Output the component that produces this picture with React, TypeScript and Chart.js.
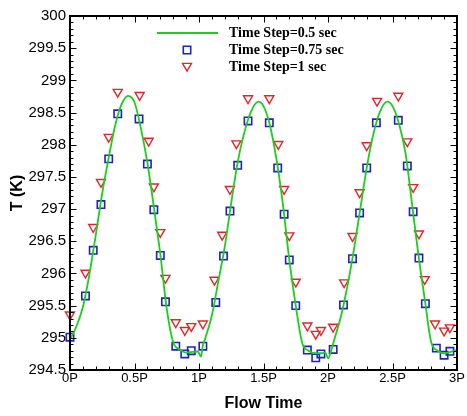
import React, { useEffect, useRef } from "react";
import { Chart, registerables } from "chart.js";

Chart.register(...registerables);

// Flow time (in periods P) and temperature (K)
const lineX = [0, 0.05, 0.1, 0.15, 0.2, 0.25, 0.3, 0.35, 0.4, 0.45, 0.5, 0.55, 0.6, 0.65, 0.7, 0.75, 0.8, 0.85, 0.9, 0.95, 0.99, 1.015, 1.03, 1.05, 1.1, 1.15, 1.2, 1.25, 1.3, 1.35, 1.4, 1.46, 1.5, 1.545, 1.6, 1.65, 1.7, 1.75, 1.8, 1.85, 1.9, 1.95, 1.98, 2.0, 2.03, 2.05, 2.1, 2.15, 2.2, 2.25, 2.3, 2.35, 2.4, 2.46, 2.5, 2.55, 2.6, 2.65, 2.7, 2.75, 2.8, 2.85, 2.9, 2.95, 3.0];
const lineY = [294.97, 295.18, 295.48, 295.98, 296.6, 297.25, 297.8, 298.3, 298.63, 298.76, 298.66, 298.25, 297.72, 297.03, 296.3, 295.45, 294.93, 294.82, 294.77, 294.78, 294.79, 294.71, 294.88, 295.0, 295.35, 295.88, 296.42, 297.1, 297.73, 298.18, 298.5, 298.67, 298.6, 298.34, 297.78, 297.08, 296.21, 295.5, 294.92, 294.8, 294.76, 294.76, 294.77, 294.68, 294.84, 294.98, 295.33, 295.8, 296.36, 297.0, 297.64, 298.15, 298.5, 298.67, 298.6, 298.33, 297.88, 297.1, 296.3, 295.6, 294.93, 294.8, 294.76, 294.78, 294.81];

const sqX = [0, 0.12, 0.18, 0.24, 0.3, 0.37, 0.535, 0.6, 0.65, 0.7, 0.74, 0.82, 0.89, 0.94, 1.03, 1.13, 1.19, 1.24, 1.3, 1.38, 1.545, 1.61, 1.66, 1.7, 1.75, 1.84, 1.905, 1.945, 2.04, 2.12, 2.19, 2.245, 2.3, 2.375, 2.545, 2.615, 2.66, 2.705, 2.755, 2.84, 2.9, 2.945];
const sqY = [295.01, 295.65, 296.36, 297.07, 297.78, 298.48, 298.4, 297.7, 296.99, 296.28, 295.56, 294.87, 294.75, 294.8, 294.87, 295.55, 296.27, 296.97, 297.68, 298.37, 298.34, 297.64, 296.92, 296.21, 295.5, 294.81, 294.69, 294.75, 294.82, 295.51, 296.23, 296.94, 297.64, 298.34, 298.38, 297.67, 296.96, 296.24, 295.53, 294.84, 294.73, 294.79];

const triX = [0, 0.12, 0.18, 0.24, 0.3, 0.37, 0.54, 0.61, 0.65, 0.7, 0.74, 0.82, 0.89, 0.94, 1.03, 1.12, 1.18, 1.24, 1.29, 1.38, 1.545, 1.615, 1.66, 1.7, 1.75, 1.84, 1.905, 1.945, 2.04, 2.125, 2.19, 2.245, 2.3, 2.38, 2.545, 2.615, 2.66, 2.705, 2.75, 2.83, 2.9, 2.945];
const triY = [295.36, 296.01, 296.72, 297.42, 298.12, 298.82, 298.77, 298.06, 297.35, 296.64, 295.93, 295.24, 295.12, 295.18, 295.22, 295.9, 296.6, 297.31, 298.02, 298.72, 298.72, 298.01, 297.31, 296.59, 295.87, 295.19, 295.06, 295.12, 295.17, 295.86, 296.58, 297.26, 297.99, 298.68, 298.76, 298.05, 297.34, 296.62, 295.91, 295.22, 295.11, 295.16];

const xTicks = [0, 0.5, 1, 1.5, 2, 2.5, 3];
const xTickLabels = ["0P", "0.5P", "1P", "1.5P", "2P", "2.5P", "3P"];
const yTicks = [294.5, 295, 295.5, 296, 296.5, 297, 297.5, 298, 298.5, 299, 299.5, 300];
const yTickLabels = ["294.5", "295", "295.5", "296", "296.5", "297", "297.5", "298", "298.5", "299", "299.5", "300"];
const seriesLabels = ["Time Step=0.5 sec", "Time Step=0.75 sec", "Time Step=1 sec"];

const GREEN = "#1ccf1c";
const BLUE = "#2222b4";
const RED = "#e0262a";

function drawSquare(ctx: CanvasRenderingContext2D, x: number, y: number, half: number) {
  ctx.beginPath();
  ctx.rect(x - half, y - half, 2 * half, 2 * half);
  ctx.stroke();
}
function drawDownTri(ctx: CanvasRenderingContext2D, x: number, y: number, r: number) {
  ctx.beginPath();
  ctx.moveTo(x - r * 0.866, y - r * 0.5);
  ctx.lineTo(x + r * 0.866, y - r * 0.5);
  ctx.lineTo(x, y + r);
  ctx.closePath();
  ctx.stroke();
}

const framePlugin = {
  id: "frameTicks",
  afterDraw(chart: any) {
    const { ctx, chartArea } = chart;
    const { left, right, top, bottom } = chartArea;
    const xs = chart.scales.x;
    const ys = chart.scales.y;
    ctx.save();
    ctx.strokeStyle = "#000";
    ctx.lineWidth = 2;
    ctx.strokeRect(left, top, right - left, bottom - top);
    ctx.lineWidth = 1;
    ctx.beginPath();
    for (let i = 0; i <= 30; i++) {
      const px = Math.round(xs.getPixelForValue(i / 10)) + 0.5;
      const len = i % 5 === 0 ? 6.5 : 3.5;
      ctx.moveTo(px, bottom);
      ctx.lineTo(px, bottom - len);
      ctx.moveTo(px, top);
      ctx.lineTo(px, top + len);
    }
    for (let i = 0; i <= 55; i++) {
      const py = Math.round(ys.getPixelForValue(294.5 + i / 10)) + 0.5;
      const len = i % 5 === 0 ? 6.5 : 3.5;
      ctx.moveTo(left, py);
      ctx.lineTo(left + len, py);
      ctx.moveTo(right, py);
      ctx.lineTo(right - len, py);
    }
    ctx.stroke();

    // legend
    const lx = left + 87;
    const tx = left + 159;
    const rows = [top + 17, top + 34, top + 51];
    ctx.strokeStyle = GREEN;
    ctx.lineWidth = 1.8;
    ctx.beginPath();
    ctx.moveTo(lx, rows[0]);
    ctx.lineTo(lx + 61, rows[0]);
    ctx.stroke();
    ctx.strokeStyle = BLUE;
    ctx.lineWidth = 1.6;
    drawSquare(ctx, lx + 30, rows[1], 3.7);
    ctx.strokeStyle = RED;
    ctx.lineWidth = 1.4;
    drawDownTri(ctx, lx + 30, rows[2] - 1, 5.2);
    ctx.fillStyle = "#000";
    ctx.font = "bold 14px 'Liberation Serif', 'Times New Roman', serif";
    ctx.textBaseline = "middle";
    ctx.textAlign = "left";
    seriesLabels.forEach((t, i) => ctx.fillText(t, tx, rows[i]));
    ctx.restore();
  },
};

export default function App() {
  const ref = useRef<HTMLCanvasElement | null>(null);
  useEffect(() => {
    if (!ref.current) return;
    const chart = new Chart(ref.current, {
      type: "line",
      data: {
        datasets: [
          {
            label: seriesLabels[0],
            data: lineX.map((x, i) => ({ x, y: lineY[i] })),
            borderColor: GREEN,
            borderWidth: 1.8,
            pointRadius: 0,
            cubicInterpolationMode: "monotone",
            fill: false,
            clip: false as any,
          },
          {
            label: seriesLabels[1],
            data: sqX.map((x, i) => ({ x, y: sqY[i] })),
            showLine: false,
            pointStyle: "rect",
            pointRadius: 5.2,
            pointBorderWidth: 1.6,
            pointBorderColor: BLUE,
            pointBackgroundColor: "rgba(0,0,0,0)",
            borderColor: BLUE,
            clip: false as any,
          },
          {
            label: seriesLabels[2],
            data: triX.map((x, i) => ({ x, y: triY[i] })),
            showLine: false,
            pointStyle: "triangle",
            pointRotation: 180,
            pointRadius: 5.2,
            pointBorderWidth: 1.4,
            pointBorderColor: RED,
            pointBackgroundColor: "rgba(0,0,0,0)",
            borderColor: RED,
            clip: false as any,
          },
        ],
      },
      options: {
        animation: false,
        responsive: false,
        devicePixelRatio: 1,
        layout: { padding: { left: 0, top: 16, right: 10, bottom: 0 } },
        plugins: { legend: { display: false }, tooltip: { enabled: false } },
        scales: {
          x: {
            type: "linear",
            min: 0,
            max: 3,
            afterFit: (s: any) => {
              s.height = 46;
            },
            afterBuildTicks: (s: any) => {
              s.ticks = xTicks.map((v) => ({ value: v }));
            },
            grid: { display: false, drawTicks: false },
            border: { display: false },
            ticks: {
              color: "#000",
              padding: 1,
              maxRotation: 0,
              autoSkip: false,
              font: { family: "'Liberation Sans', Arial, sans-serif", size: 13 },
              callback: (v: any) => {
                const i = xTicks.findIndex((t) => Math.abs(t - Number(v)) < 1e-6);
                return i >= 0 ? xTickLabels[i] : "";
              },
            },
            title: {
              display: true,
              text: "Flow Time",
              color: "#000",
              font: { family: "'Liberation Sans', Arial, sans-serif", size: 16, weight: "bold" },
              padding: { top: 0, bottom: 3 },
            },
          },
          y: {
            type: "linear",
            min: 294.5,
            max: 300,
            afterFit: (s: any) => {
              s.width = 70;
            },
            afterBuildTicks: (s: any) => {
              s.ticks = yTicks.map((v) => ({ value: v }));
            },
            grid: { display: false, drawTicks: false },
            border: { display: false },
            ticks: {
              color: "#000",
              padding: 4,
              autoSkip: false,
              font: { family: "'Liberation Sans', Arial, sans-serif", size: 15 },
              callback: (v: any) => {
                const i = yTicks.findIndex((t) => Math.abs(t - Number(v)) < 1e-6);
                return i >= 0 ? yTickLabels[i] : "";
              },
            },
            title: {
              display: true,
              text: "T (K)",
              color: "#000",
              font: { family: "'Liberation Sans', Arial, sans-serif", size: 16, weight: "bold" },
              padding: { top: 8, bottom: 0 },
            },
          },
        },
      } as any,
      plugins: [framePlugin],
    });
    return () => chart.destroy();
  }, []);
  return (
    <div style={{ position: "absolute", left: 0, top: 0, width: 467, height: 416, background: "#fff" }}>
      <canvas ref={ref} width={467} height={416} />
    </div>
  );
}
